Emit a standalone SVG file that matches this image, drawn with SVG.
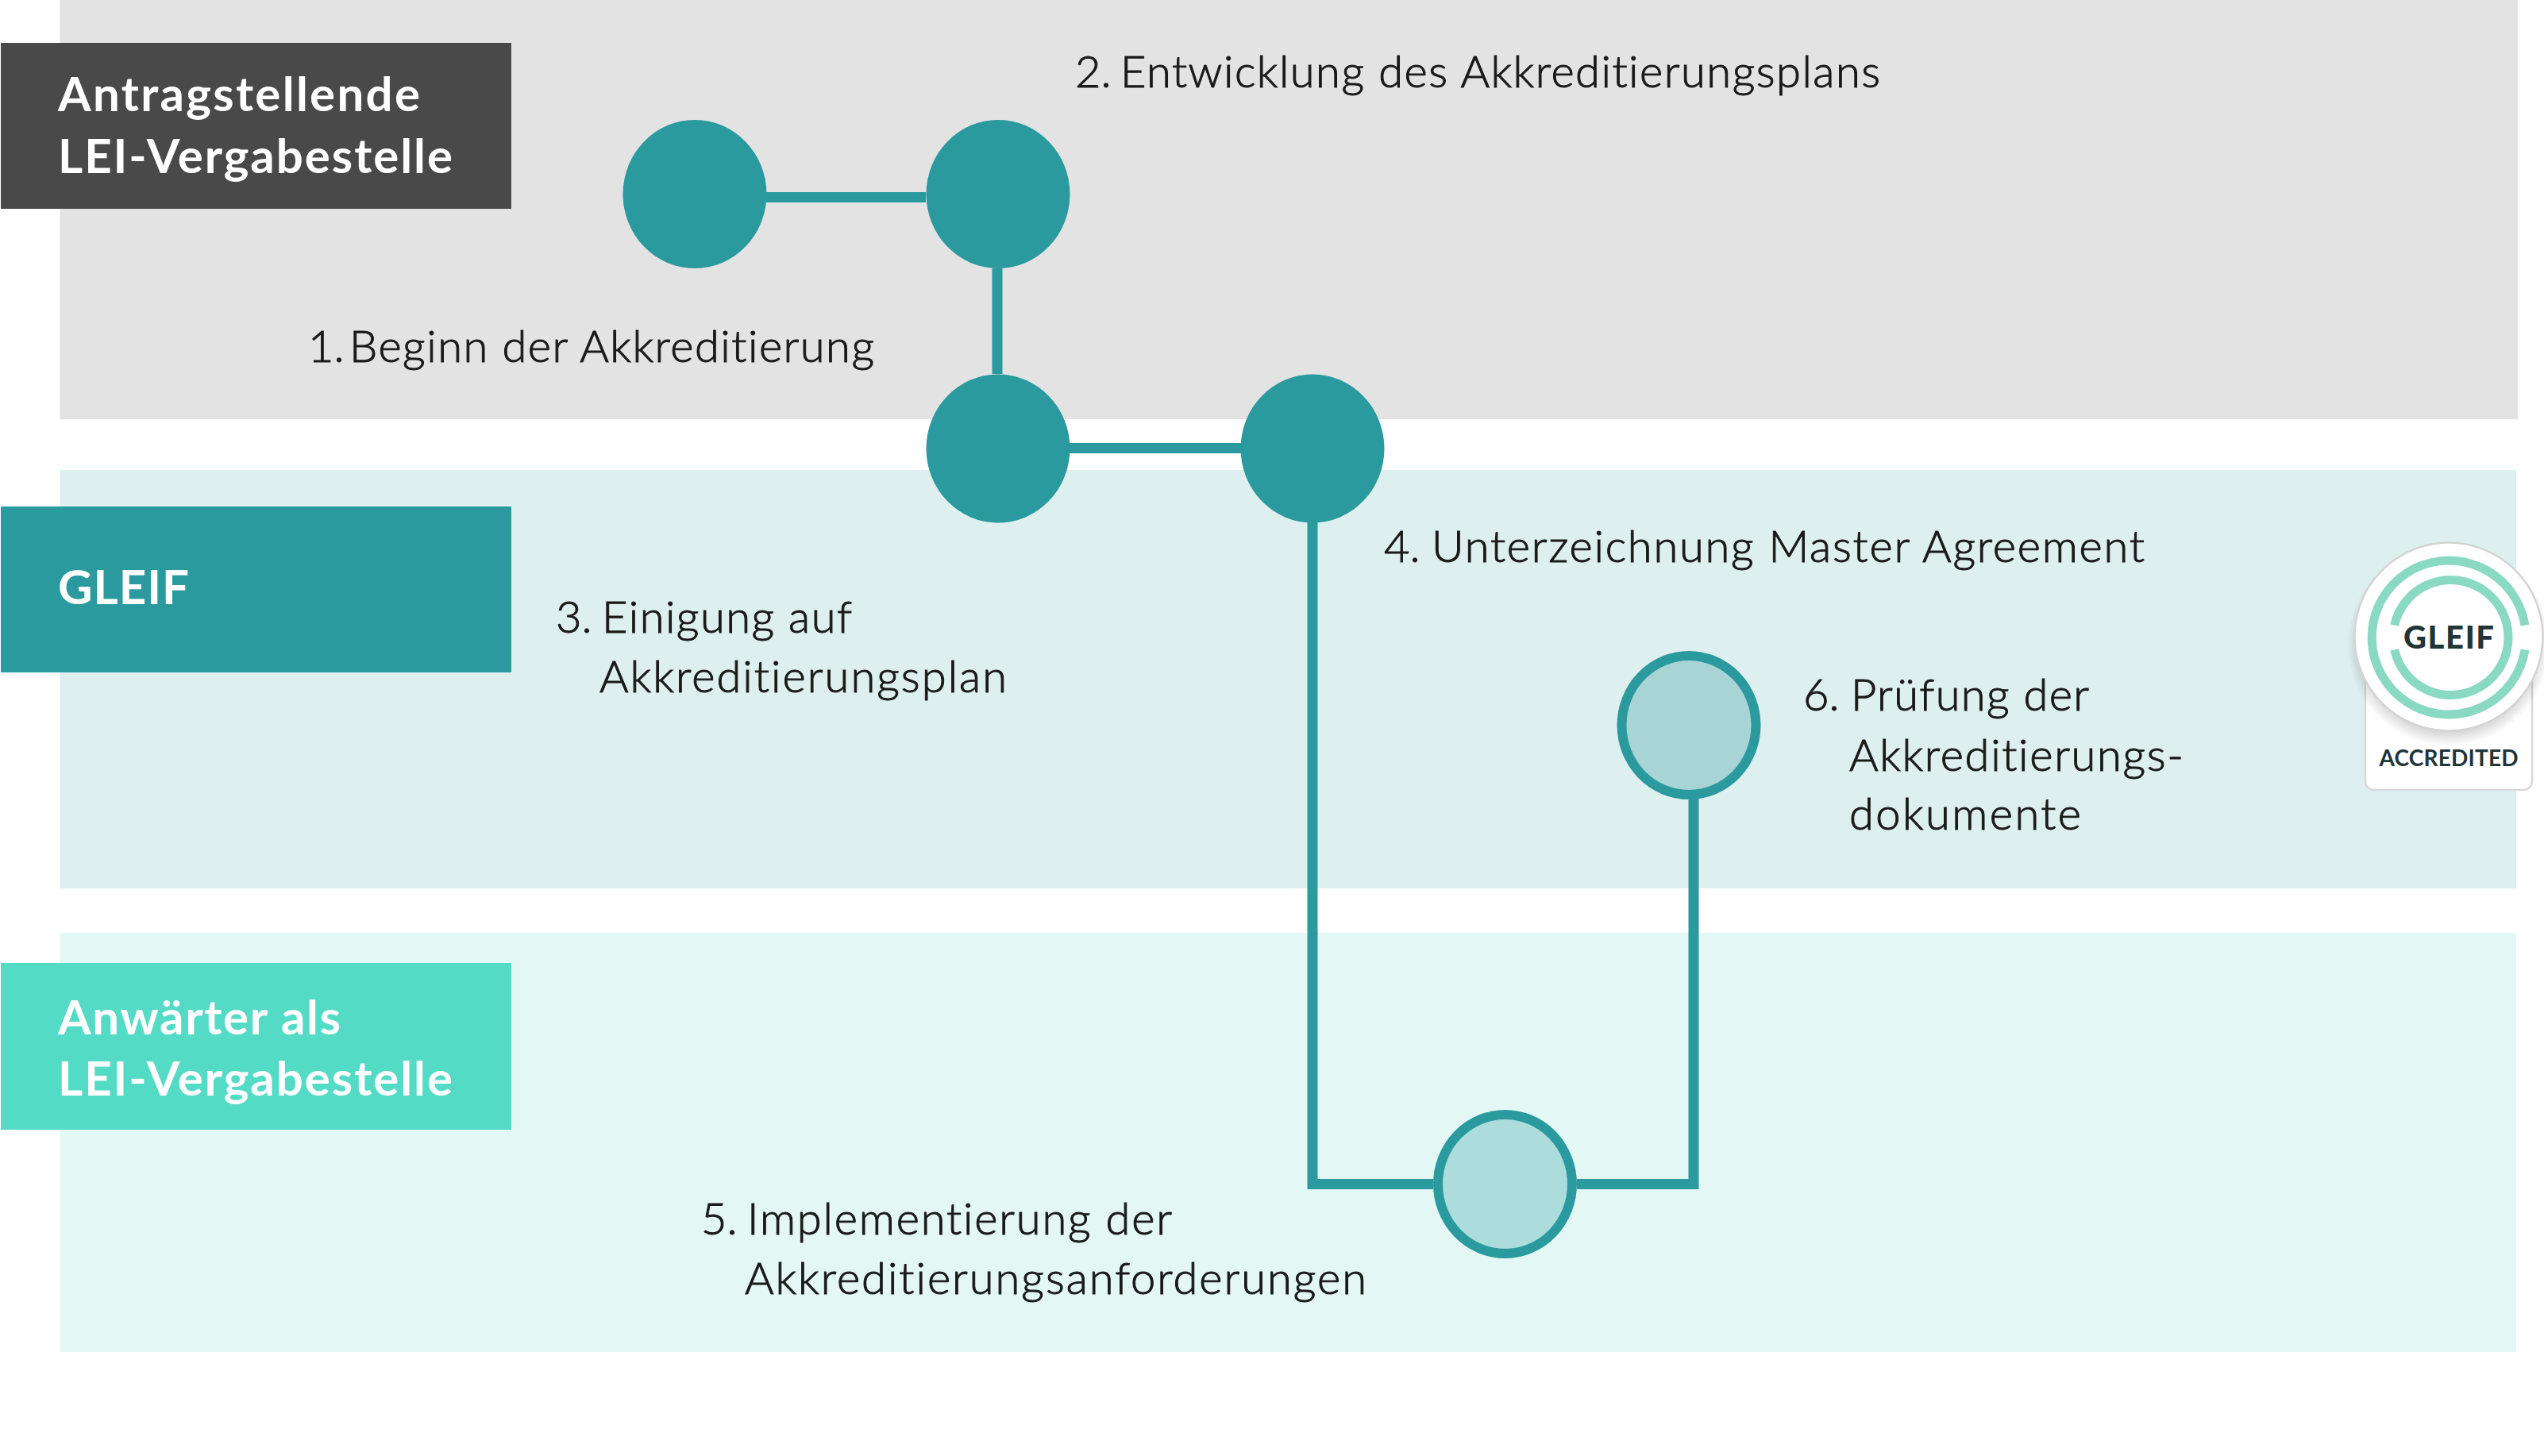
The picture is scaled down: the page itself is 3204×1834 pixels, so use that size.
<svg xmlns="http://www.w3.org/2000/svg" width="3204" height="1834" viewBox="0 0 3204 1834">
<defs>
<radialGradient id="sh" cx="0.5" cy="0.5" r="0.5"><stop offset="0.8" stop-color="#000" stop-opacity="0.22"/><stop offset="1" stop-color="#000" stop-opacity="0"/></radialGradient>
</defs>
<style>
text{font-variant-ligatures:none}
.t{font-family:"Lato","Liberation Sans",sans-serif;font-size:56px;font-weight:300;fill:#1a1a1a;stroke:#1a1a1a;stroke-width:1}
.h{font-family:"Lato","Liberation Sans",sans-serif;font-size:60px;font-weight:700;fill:#fff}
.n{fill:#2a9a9e}
.m{fill:#a8d4d6;stroke:#2a9a9e;stroke-width:12}
.c{fill:none;stroke:#2a9a9e;stroke-width:13}
.r{fill:none;stroke:#8ad9c3;stroke-width:11}
.b{font-family:"Lato","Liberation Sans",sans-serif;font-weight:900;fill:#1f3538}
</style>
<g id="bands">
<rect x="75.500" y="0" width="3095.500" height="528" fill="#e3e3e3"/>
<rect x="75.500" y="592" width="3093.500" height="527" fill="#deefef"/>
<rect x="75.500" y="1175" width="3093.500" height="528" fill="#e3f8f5"/>
</g>
<g id="connectors">
<path class="c" d="M965 248.500H1166"/>
<path class="c" d="M1256 338V471"/>
<path class="c" d="M1347 564.500H1564"/>
<path class="c" d="M1653 658V1491.500H1805"/>
<path class="c" d="M1986 1491.500H2133V1006"/>
</g>
<g id="lane-applicant"><rect x="1" y="54" width="643" height="209" fill="#494949"/><text class="h" x="73" y="140" textLength="456">Antragstellende</text><text class="h" x="73" y="218" textLength="497">LEI-Vergabestelle</text></g>
<g id="lane-gleif"><rect x="1" y="638" width="643" height="209" fill="#2a9a9e"/><text class="h" x="73" y="761" textLength="165">GLEIF</text></g>
<g id="lane-candidate"><rect x="1" y="1213" width="643" height="210" fill="#54dbc6"/><text class="h" x="73" y="1303" textLength="356">Anwärter als</text><text class="h" x="73" y="1380" textLength="497">LEI-Vergabestelle</text></g>
<g id="step-1"><ellipse class="n" cx="875" cy="244.500" rx="90.500" ry="93.500"/><text class="t" y="456"><tspan x="388">1.</tspan> <tspan x="440" textLength="661">Beginn der Akkreditierung</tspan></text></g>
<g id="step-2"><ellipse class="n" cx="1257" cy="244.500" rx="90.500" ry="93.500"/><text class="t" y="110"><tspan x="1354">2.</tspan> <tspan x="1411" textLength="957">Entwicklung des Akkreditierungsplans</tspan></text></g>
<g id="step-3"><ellipse class="n" cx="1257" cy="565" rx="90.500" ry="93.500"/><text class="t" y="797"><tspan x="700">3.</tspan> <tspan x="758" textLength="315">Einigung auf</tspan></text><text class="t" x="755" y="872" textLength="513">Akkreditierungsplan</text></g>
<g id="step-4"><ellipse class="n" cx="1653" cy="565" rx="90.500" ry="93.500"/><text class="t" y="708"><tspan x="1743">4.</tspan> <tspan x="1803" textLength="898">Unterzeichnung Master Agreement</tspan></text></g>
<g id="step-5"><ellipse class="m" cx="1895.500" cy="1491.500" rx="84.500" ry="87.500" style="fill:#acdcdb"/><text class="t" y="1555"><tspan x="883">5.</tspan> <tspan x="941" textLength="535">Implementierung der</tspan></text><text class="t" x="938" y="1630" textLength="783">Akkreditierungsanforderungen</text></g>
<g id="step-6"><ellipse class="m" cx="2127" cy="913.500" rx="84.500" ry="87.500"/><text class="t" y="895"><tspan x="2271">6.</tspan> <tspan x="2331" textLength="300">Prüfung der</tspan></text><text class="t" x="2329" y="971" textLength="421">Akkreditierungs-</text><text class="t" x="2329" y="1045" textLength="292">dokumente</text></g>
<g id="badge">
<rect x="2979" y="800" width="210" height="195" rx="11" fill="#fff" stroke="#d8d8d8" stroke-width="2.500"/>
<circle cx="3084" cy="812" r="128" fill="url(#sh)"/>
<circle cx="3084" cy="802" r="118.500" fill="#fff" stroke="#d4d4d4" stroke-width="2.500"/>
<path class="r" d="M3180 787.700A97 97 0 1 0 3180 818.300"/>
<path class="r" d="M3015.700 787.700A72.500 72.500 0 1 1 3015.700 818.300"/>
<text class="b" x="3084" y="817" text-anchor="middle" font-size="40" textLength="114">GLEIF</text>
<text class="b" x="3084" y="965" text-anchor="middle" font-size="28" textLength="175" style="font-weight:700">ACCREDITED</text>
</g>
</svg>
